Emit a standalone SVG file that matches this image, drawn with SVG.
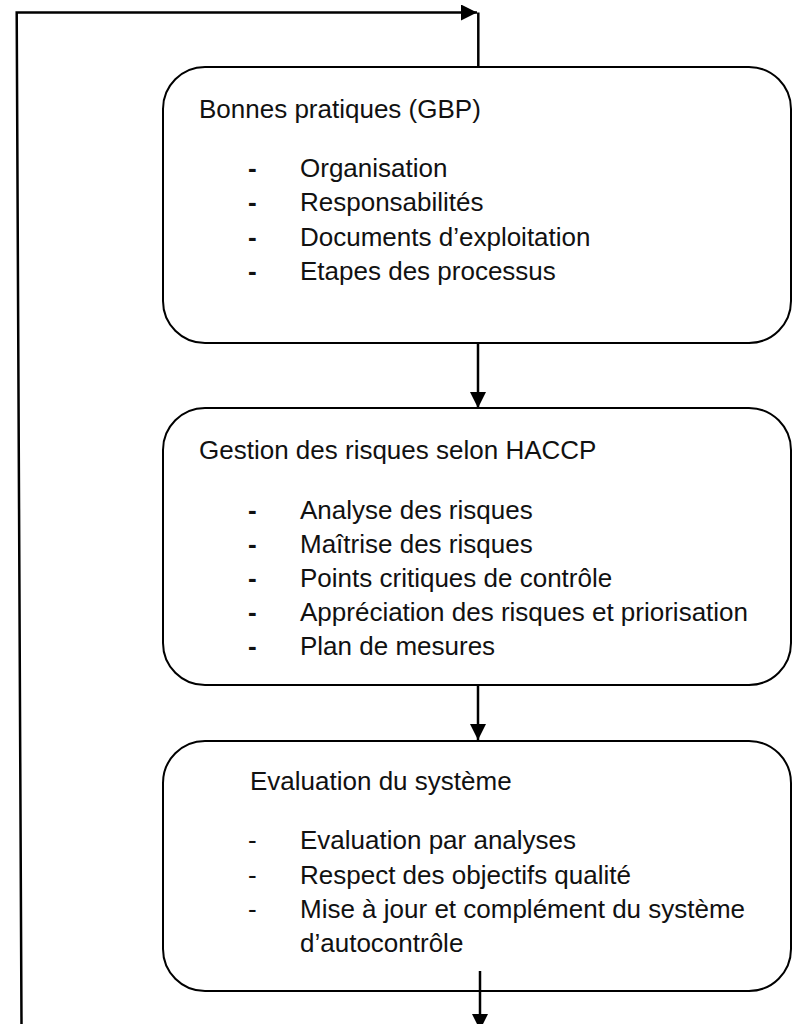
<svg xmlns="http://www.w3.org/2000/svg" width="792" height="1024" viewBox="0 0 792 1024">
<style>
.box{fill:#fff;stroke:#000;stroke-width:2}
.con{fill:none;stroke:#000;stroke-width:2.5}
text{font-family:"Liberation Sans",Arial,sans-serif;font-size:26px;fill:#111}
.b{font-weight:bold}
</style>
<defs>
<marker id="ah" markerWidth="16" markerHeight="16" viewBox="0 0 16 16" refX="16" refY="8" orient="auto" markerUnits="userSpaceOnUse">
<path d="M0,0 L16,8 L0,16 Z" fill="#000"/>
</marker>
</defs>
<rect width="792" height="1024" fill="#fff"/>
<g id="node1">
<rect class="box" x="163" y="67" width="628" height="276" rx="42" ry="42"/>
<text x="199" y="118">Bonnes pratiques (GBP)</text>
<text class="b" x="248" y="177">-</text><text x="300" y="177">Organisation</text>
<text class="b" x="248" y="211">-</text><text x="300" y="211">Responsabilités</text>
<text class="b" x="248" y="246">-</text><text x="300" y="246">Documents d’exploitation</text>
<text class="b" x="248" y="280">-</text><text x="300" y="280">Etapes des processus</text>
</g>
<g id="node2">
<rect class="box" x="163" y="408" width="628" height="277" rx="42" ry="42"/>
<text x="199" y="459">Gestion des risques selon HACCP</text>
<text class="b" x="248" y="519">-</text><text x="300" y="519">Analyse des risques</text>
<text class="b" x="248" y="553">-</text><text x="300" y="553">Maîtrise des risques</text>
<text class="b" x="248" y="587">-</text><text x="300" y="587">Points critiques de contrôle</text>
<text class="b" x="248" y="621">-</text><text x="300" y="621">Appréciation des risques et priorisation</text>
<text class="b" x="248" y="655">-</text><text x="300" y="655">Plan de mesures</text>
</g>
<g id="node3">
<rect class="box" x="163" y="741" width="628" height="250" rx="42" ry="42"/>
<text x="250" y="790">Evaluation du système</text>
<text x="248" y="849">-</text><text x="300" y="849">Evaluation par analyses</text>
<text x="248" y="884">-</text><text x="300" y="884">Respect des objectifs qualité</text>
<text x="248" y="918">-</text><text x="300" y="918">Mise à jour et complément du système</text>
<text x="300" y="952">d’autocontrôle</text>
</g>
<g id="connectors">
<polyline class="con" points="21.5,1024 16.7,12.5 477,12.5" marker-end="url(#ah)"/>
<line class="con" x1="478.3" y1="12.5" x2="478.3" y2="67"/>
<line class="con" x1="478" y1="343" x2="478" y2="408" marker-end="url(#ah)"/>
<line class="con" x1="478" y1="685" x2="478" y2="740" marker-end="url(#ah)"/>
<line class="con" x1="480" y1="971" x2="480" y2="1030" marker-end="url(#ah)"/>
</g>
</svg>
